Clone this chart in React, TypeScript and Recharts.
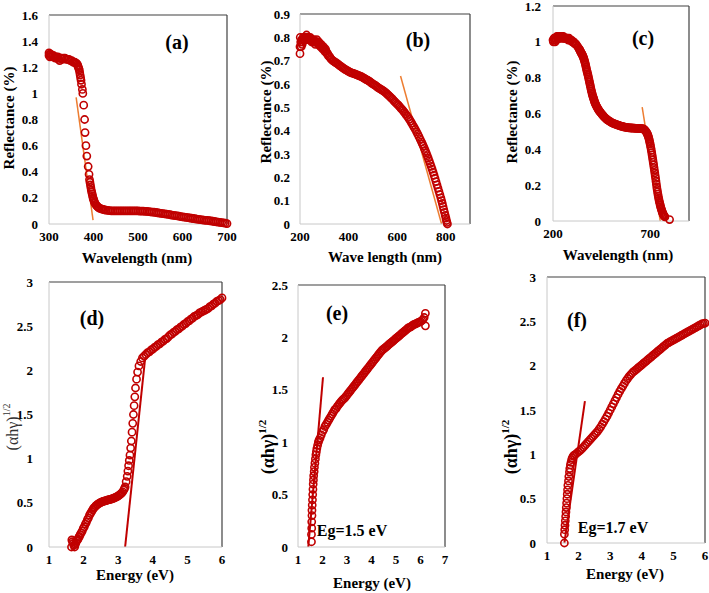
import React from "react";
import { ScatterChart, Scatter, XAxis, YAxis, ReferenceLine } from "recharts";

// (a) reflectance vs wavelength
const reflA: [number, number][] = [
  [300, 1.31], [300, 1.29], [301, 1.3], [302, 1.28], [304, 1.3], [306, 1.29], [308, 1.28], [310, 1.29],
  [312, 1.28], [314, 1.27], [316, 1.28], [318, 1.27], [320, 1.28], [322, 1.26], [324, 1.25], [326, 1.27],
  [328, 1.27], [330, 1.26], [333, 1.27], [336, 1.27], [339, 1.26], [342, 1.26], [345, 1.26], [348, 1.25],
  [351, 1.25], [354, 1.24], [356, 1.24], [358, 1.24], [360, 1.23], [362, 1.23], [364, 1.22], [365, 1.21],
  [366, 1.2], [367, 1.19], [368, 1.18], [369, 1.16], [370, 1.14], [371, 1.12], [372, 1.1], [373, 1.07],
  [375, 1.03], [376, 1.0], [378, 0.91], [380, 0.8], [381, 0.7], [383, 0.6], [385, 0.52], [388, 0.44],
  [390, 0.38], [391, 0.34], [392, 0.32], [393, 0.3], [394, 0.28], [395, 0.26], [396, 0.245], [397, 0.23],
  [398, 0.215], [399, 0.2], [400, 0.19], [401, 0.18], [402, 0.17], [403, 0.16], [405, 0.15], [407, 0.14],
  [409, 0.133], [411, 0.127], [413, 0.122], [416, 0.118], [419, 0.114], [422, 0.111], [425, 0.108], [428, 0.106],
  [432, 0.104], [436, 0.102], [440, 0.101], [444, 0.1], [448, 0.1], [452, 0.1], [456, 0.1], [460, 0.1],
  [464, 0.1], [468, 0.1], [472, 0.1], [476, 0.1], [480, 0.1], [484, 0.1], [488, 0.1], [492, 0.1],
  [496, 0.1], [500, 0.1], [504, 0.099], [508, 0.098], [512, 0.098], [516, 0.097], [520, 0.096], [524, 0.094],
  [528, 0.093], [532, 0.091], [536, 0.09], [540, 0.088], [544, 0.086], [548, 0.084], [552, 0.082], [556, 0.08],
  [560, 0.078], [564, 0.076], [568, 0.073], [572, 0.071], [576, 0.068], [580, 0.066], [584, 0.064], [588, 0.062],
  [592, 0.06], [596, 0.057], [600, 0.055], [604, 0.053], [608, 0.051], [612, 0.049], [616, 0.046], [620, 0.044],
  [624, 0.042], [628, 0.04], [632, 0.038], [636, 0.036], [640, 0.034], [644, 0.032], [648, 0.03], [652, 0.028],
  [656, 0.027], [660, 0.025], [664, 0.023], [668, 0.021], [672, 0.019], [676, 0.017], [680, 0.015], [684, 0.013],
  [688, 0.011], [692, 0.008], [696, 0.006], [700, 0.003],
];

// (b)
const reflB: [number, number][] = [
  [200, 0.73], [200, 0.76], [201, 0.8], [203, 0.78], [205, 0.76], [207, 0.79], [209, 0.77], [211, 0.78],
  [213, 0.8], [215, 0.79], [218, 0.8], [221, 0.79], [224, 0.8], [227, 0.81], [230, 0.8], [233, 0.79],
  [236, 0.8], [239, 0.79], [242, 0.8], [245, 0.79], [248, 0.78], [251, 0.79], [254, 0.78], [257, 0.79],
  [260, 0.78], [263, 0.77], [266, 0.78], [269, 0.79], [272, 0.78], [275, 0.77], [278, 0.78], [281, 0.77],
  [284, 0.76], [287, 0.77], [290, 0.76], [293, 0.75], [296, 0.76], [299, 0.75], [302, 0.74], [305, 0.75],
  [308, 0.74], [311, 0.73], [314, 0.73], [317, 0.72], [320, 0.72], [323, 0.715], [326, 0.71], [330, 0.705],
  [335, 0.7], [340, 0.697], [345, 0.693], [350, 0.69], [355, 0.686], [360, 0.682], [365, 0.678], [370, 0.674],
  [375, 0.67], [380, 0.667], [385, 0.663], [390, 0.66], [395, 0.657], [400, 0.654], [405, 0.651], [410, 0.649],
  [415, 0.647], [420, 0.645], [425, 0.643], [430, 0.641], [435, 0.639], [440, 0.637], [445, 0.635], [450, 0.633],
  [455, 0.63], [460, 0.627], [465, 0.624], [470, 0.621], [475, 0.618], [480, 0.615], [485, 0.612], [490, 0.608],
  [495, 0.604], [500, 0.6], [505, 0.597], [510, 0.594], [515, 0.59], [520, 0.586], [525, 0.582], [530, 0.579],
  [535, 0.576], [540, 0.573], [545, 0.569], [550, 0.565], [555, 0.561], [560, 0.556], [565, 0.551], [570, 0.546],
  [575, 0.541], [580, 0.536], [585, 0.53], [590, 0.524], [595, 0.519], [600, 0.514], [605, 0.509], [610, 0.503],
  [615, 0.497], [620, 0.491], [625, 0.485], [630, 0.478], [635, 0.471], [640, 0.464], [645, 0.457], [650, 0.449],
  [655, 0.441], [660, 0.432], [665, 0.423], [670, 0.414], [675, 0.405], [680, 0.395], [685, 0.385], [690, 0.374],
  [695, 0.363], [700, 0.352], [704, 0.343], [708, 0.334], [712, 0.324], [716, 0.314], [720, 0.304], [724, 0.293],
  [728, 0.282], [732, 0.271], [736, 0.259], [740, 0.247], [744, 0.235], [748, 0.222], [752, 0.209], [756, 0.196],
  [760, 0.182], [764, 0.168], [768, 0.154], [772, 0.14], [776, 0.126], [780, 0.112], [783, 0.1], [786, 0.088],
  [789, 0.075], [792, 0.062], [795, 0.05], [798, 0.037], [801, 0.025], [803, 0.015], [805, 0.007], [807, 0],
];

// (c)
const reflC: [number, number][] = [
  [200, 1.01], [202, 1.0], [205, 1.02], [208, 1.01], [211, 1.0], [214, 1.02], [217, 1.01], [220, 1.03],
  [223, 1.02], [226, 1.03], [229, 1.02], [232, 1.03], [235, 1.02], [238, 1.03], [241, 1.02], [244, 1.03],
  [247, 1.03], [250, 1.02], [253, 1.03], [256, 1.02], [259, 1.02], [263, 1.02], [267, 1.02], [271, 1.02],
  [275, 1.02], [279, 1.01], [283, 1.02], [287, 1.01], [291, 1.01], [295, 1.01], [299, 1.0], [303, 1.0],
  [307, 1.0], [311, 0.99], [315, 0.99], [320, 0.985], [326, 0.975], [332, 0.965], [336, 0.958], [338, 0.955],
  [340, 0.95], [342, 0.945], [344, 0.94], [346, 0.937], [348, 0.933], [350, 0.93], [352, 0.925], [354, 0.92],
  [356, 0.915], [358, 0.909], [360, 0.902], [362, 0.895], [364, 0.887], [366, 0.879], [368, 0.87], [370, 0.86],
  [372, 0.85], [374, 0.84], [376, 0.832], [378, 0.823], [380, 0.815], [382, 0.805], [384, 0.795], [386, 0.785],
  [388, 0.775], [390, 0.765], [392, 0.755], [394, 0.745], [396, 0.735], [398, 0.725], [400, 0.717], [402, 0.708],
  [404, 0.7], [406, 0.693], [408, 0.687], [410, 0.68], [412, 0.673], [414, 0.666], [416, 0.66], [418, 0.655],
  [420, 0.65], [423, 0.643], [426, 0.637], [429, 0.631], [432, 0.625], [435, 0.62], [438, 0.615], [441, 0.61],
  [445, 0.605], [449, 0.6], [453, 0.594], [457, 0.589], [461, 0.584], [465, 0.579], [470, 0.574], [475, 0.569],
  [480, 0.565], [485, 0.561], [490, 0.557], [495, 0.554], [500, 0.551], [505, 0.548], [510, 0.545], [515, 0.543],
  [520, 0.541], [525, 0.539], [530, 0.537], [535, 0.535], [540, 0.533], [545, 0.531], [550, 0.529], [555, 0.528],
  [560, 0.526], [565, 0.525], [570, 0.524], [575, 0.523], [580, 0.522], [585, 0.521], [590, 0.52], [595, 0.52],
  [600, 0.519], [605, 0.519], [610, 0.518], [615, 0.518], [620, 0.518], [625, 0.517], [630, 0.517], [635, 0.517],
  [640, 0.517], [645, 0.517], [650, 0.516], [655, 0.516], [660, 0.515], [664, 0.514], [668, 0.512], [672, 0.508],
  [676, 0.503], [680, 0.497], [684, 0.49], [686, 0.485], [688, 0.48], [690, 0.474], [692, 0.467], [694, 0.459],
  [696, 0.45], [698, 0.44], [700, 0.43], [702, 0.419], [704, 0.407], [706, 0.395], [708, 0.382], [710, 0.369],
  [712, 0.355], [714, 0.341], [716, 0.327], [718, 0.313], [720, 0.298], [722, 0.283], [724, 0.268], [726, 0.253],
  [728, 0.238], [730, 0.222], [732, 0.206], [734, 0.19], [736, 0.176], [738, 0.163], [740, 0.15], [742, 0.138],
  [744, 0.127], [746, 0.116], [748, 0.106], [750, 0.097], [752, 0.088], [754, 0.08], [756, 0.072], [758, 0.065],
  [760, 0.058], [762, 0.052], [764, 0.046], [766, 0.041], [768, 0.036], [770, 0.032], [773, 0.027], [776, 0.023],
  [800, 0.008],
];

// (d) (αhγ)^1/2 vs energy
const taucD: [number, number][] = [
  [1.65, 0.0], [1.66, 0.08], [1.68, 0.06], [1.7, 0.04], [1.72, 0.02], [1.74, 0.0], [1.76, 0.03], [1.78, 0.05],
  [1.8, 0.07], [1.82, 0.08], [1.84, 0.09], [1.86, 0.11], [1.88, 0.12], [1.9, 0.14], [1.93, 0.16], [1.96, 0.18],
  [1.99, 0.21], [2.02, 0.23], [2.05, 0.26], [2.08, 0.28], [2.11, 0.31], [2.14, 0.33], [2.17, 0.36], [2.2, 0.38],
  [2.23, 0.4], [2.26, 0.42], [2.29, 0.44], [2.32, 0.45], [2.35, 0.465], [2.38, 0.475], [2.41, 0.485], [2.44, 0.49],
  [2.47, 0.5], [2.5, 0.505], [2.53, 0.51], [2.56, 0.515], [2.59, 0.52], [2.62, 0.523], [2.65, 0.526], [2.68, 0.53],
  [2.71, 0.533], [2.74, 0.536], [2.77, 0.54], [2.8, 0.543], [2.83, 0.547], [2.86, 0.551], [2.89, 0.556], [2.92, 0.561],
  [2.95, 0.567], [2.98, 0.574], [3.01, 0.582], [3.04, 0.59], [3.07, 0.6], [3.1, 0.61], [3.13, 0.625], [3.16, 0.645],
  [3.18, 0.66], [3.2, 0.68], [3.23, 0.74], [3.26, 0.8], [3.28, 0.86], [3.3, 0.92], [3.32, 0.98], [3.34, 1.04],
  [3.36, 1.12], [3.38, 1.2], [3.4, 1.3], [3.42, 1.4], [3.44, 1.5], [3.46, 1.6], [3.48, 1.7], [3.5, 1.8],
  [3.53, 1.9], [3.56, 1.98], [3.6, 2.05], [3.65, 2.1], [3.7, 2.14], [3.75, 2.16], [3.8, 2.18], [3.85, 2.2],
  [3.9, 2.21], [3.95, 2.23], [4.0, 2.24], [4.05, 2.26], [4.1, 2.27], [4.15, 2.29], [4.2, 2.3], [4.25, 2.32],
  [4.3, 2.33], [4.35, 2.35], [4.4, 2.36], [4.45, 2.38], [4.5, 2.4], [4.55, 2.41], [4.6, 2.43], [4.65, 2.44],
  [4.7, 2.46], [4.75, 2.47], [4.8, 2.49], [4.85, 2.5], [4.9, 2.52], [4.95, 2.53], [5.0, 2.55], [5.05, 2.56],
  [5.1, 2.58], [5.15, 2.59], [5.2, 2.61], [5.25, 2.62], [5.3, 2.63], [5.35, 2.65], [5.4, 2.66], [5.45, 2.67],
  [5.5, 2.68], [5.55, 2.69], [5.6, 2.7], [5.65, 2.72], [5.7, 2.73], [5.75, 2.75], [5.8, 2.76], [5.85, 2.78],
  [5.9, 2.79], [5.95, 2.8], [6.0, 2.82],
];

// (e)
const taucE: [number, number][] = [
  [1.55, 0.05], [1.55, 0.12], [1.56, 0.18], [1.56, 0.24], [1.57, 0.3], [1.57, 0.35], [1.58, 0.4], [1.59, 0.45],
  [1.6, 0.5], [1.61, 0.55], [1.62, 0.6], [1.63, 0.64], [1.64, 0.68], [1.66, 0.72], [1.67, 0.76], [1.69, 0.8],
  [1.71, 0.84], [1.73, 0.88], [1.75, 0.91], [1.77, 0.94], [1.8, 0.97], [1.83, 1.0], [1.86, 1.02], [1.9, 1.04],
  [1.95, 1.07], [2.0, 1.1], [2.05, 1.12], [2.1, 1.15], [2.15, 1.17], [2.2, 1.19], [2.25, 1.21], [2.3, 1.23],
  [2.35, 1.25], [2.4, 1.27], [2.45, 1.29], [2.5, 1.31], [2.55, 1.32], [2.6, 1.34], [2.65, 1.355], [2.7, 1.37],
  [2.75, 1.385], [2.8, 1.4], [2.85, 1.41], [2.9, 1.42], [2.95, 1.435], [3.0, 1.45], [3.05, 1.465], [3.1, 1.48],
  [3.15, 1.495], [3.2, 1.51], [3.25, 1.525], [3.3, 1.54], [3.35, 1.555], [3.4, 1.57], [3.45, 1.585], [3.5, 1.6],
  [3.55, 1.615], [3.6, 1.63], [3.65, 1.645], [3.7, 1.66], [3.75, 1.675], [3.8, 1.69], [3.85, 1.705], [3.9, 1.72],
  [3.95, 1.735], [4.0, 1.75], [4.05, 1.765], [4.1, 1.78], [4.15, 1.795], [4.2, 1.81], [4.25, 1.825], [4.3, 1.84],
  [4.35, 1.855], [4.4, 1.87], [4.45, 1.88], [4.5, 1.89], [4.55, 1.9], [4.6, 1.91], [4.65, 1.92], [4.7, 1.93],
  [4.75, 1.94], [4.8, 1.95], [4.85, 1.96], [4.9, 1.97], [4.95, 1.98], [5.0, 1.99], [5.05, 2.0], [5.1, 2.01],
  [5.15, 2.02], [5.2, 2.03], [5.25, 2.04], [5.3, 2.05], [5.35, 2.06], [5.4, 2.07], [5.45, 2.08], [5.5, 2.09],
  [5.55, 2.095], [5.6, 2.1], [5.65, 2.11], [5.7, 2.12], [5.75, 2.125], [5.8, 2.13], [5.85, 2.135], [5.9, 2.14],
  [5.95, 2.145], [6.0, 2.15], [6.05, 2.16], [6.1, 2.17], [6.15, 2.19], [6.2, 2.23], [6.2, 2.11],
];

// (f)
const taucF: [number, number][] = [
  [1.55, 0.0], [1.55, 0.1], [1.56, 0.15], [1.57, 0.2], [1.58, 0.25], [1.59, 0.3], [1.6, 0.35], [1.61, 0.4],
  [1.62, 0.45], [1.63, 0.5], [1.64, 0.55], [1.65, 0.6], [1.66, 0.65], [1.68, 0.7], [1.69, 0.75], [1.71, 0.8],
  [1.72, 0.84], [1.74, 0.88], [1.76, 0.91], [1.78, 0.94], [1.8, 0.96], [1.83, 0.98], [1.86, 0.99], [1.9, 1.0],
  [1.95, 1.015], [2.0, 1.03], [2.05, 1.045], [2.1, 1.06], [2.15, 1.08], [2.2, 1.1], [2.25, 1.12], [2.3, 1.14],
  [2.35, 1.16], [2.4, 1.18], [2.45, 1.2], [2.5, 1.22], [2.55, 1.24], [2.6, 1.26], [2.65, 1.285], [2.7, 1.31],
  [2.75, 1.34], [2.8, 1.37], [2.85, 1.4], [2.9, 1.43], [2.95, 1.465], [3.0, 1.5], [3.05, 1.535], [3.1, 1.57],
  [3.15, 1.605], [3.2, 1.64], [3.25, 1.675], [3.3, 1.71], [3.35, 1.74], [3.4, 1.77], [3.45, 1.8], [3.5, 1.83],
  [3.55, 1.855], [3.6, 1.88], [3.65, 1.9], [3.7, 1.92], [3.75, 1.935], [3.8, 1.95], [3.85, 1.965], [3.9, 1.98],
  [3.95, 1.995], [4.0, 2.01], [4.05, 2.025], [4.1, 2.04], [4.15, 2.055], [4.2, 2.07], [4.25, 2.085], [4.3, 2.1],
  [4.35, 2.115], [4.4, 2.13], [4.45, 2.145], [4.5, 2.16], [4.55, 2.175], [4.6, 2.19], [4.65, 2.205], [4.7, 2.22],
  [4.75, 2.235], [4.8, 2.25], [4.85, 2.26], [4.9, 2.27], [4.95, 2.28], [5.0, 2.29], [5.05, 2.3], [5.1, 2.31],
  [5.15, 2.32], [5.2, 2.33], [5.25, 2.34], [5.3, 2.35], [5.35, 2.36], [5.4, 2.37], [5.45, 2.38], [5.5, 2.39],
  [5.55, 2.4], [5.6, 2.41], [5.65, 2.42], [5.7, 2.43], [5.75, 2.44], [5.8, 2.45], [5.85, 2.46], [5.9, 2.47],
  [5.95, 2.475], [6.0, 2.48],
];

// tangent lines (two end points each)
const fitA = [{ x: 361, y: 0.97 }, { x: 399, y: 0.03 }];
const fitB = [{ x: 614, y: 0.634 }, { x: 783, y: 0 }];
const fitC = [{ x: 659, y: 0.636 }, { x: 752, y: 0 }];
const fitD = [{ x: 3.2, y: 0 }, { x: 3.78, y: 2.14 }];
const fitE = [{ x: 1.42, y: 0 }, { x: 2.02, y: 1.62 }];
const fitF = [{ x: 1.55, y: 0 }, { x: 2.2, y: 1.6 }];

const ticksA = [300, 400, 500, 600, 700];
const ticksB = [200, 400, 600, 800];
const ticksC = [200, 700];
const yTicksA = [0, 0.2, 0.4, 0.6, 0.8, 1, 1.2, 1.4, 1.6];
const yTicksB = [0, 0.1, 0.2, 0.3, 0.4, 0.5, 0.6, 0.7, 0.8, 0.9];
const yTicksC = [0, 0.2, 0.4, 0.6, 0.8, 1, 1.2];
const eTicksD = [1, 2, 3, 4, 5, 6];
const eTicksE = [1, 2, 3, 4, 5, 6, 7];
const yTicksD = [0, 0.5, 1, 1.5, 2, 2.5, 3];
const yTicksE = [0, 0.5, 1, 1.5, 2, 2.5];

const RED = "#c00000";
const ORANGE = "#ed7d31";
const FONT = '"Liberation Serif", "Times New Roman", Tinos, "DejaVu Serif", serif';

const OpenCircle = (props: any) => (
  <circle cx={props.cx} cy={props.cy} r={3.6} fill="none" stroke={RED} strokeWidth={1.6} />
);

type PanelProps = {
  plot: [number, number, number, number];
  points: [number, number][];
  xDomain: [number, number];
  xTicks: number[];
  yDomain: [number, number];
  yTicks: number[];
  fit: { x: number; y: number }[];
  fitColor: string;
  fitWidth: number;
  yGap: number;
  rightPad?: number;
};

function Panel({ plot, points, xDomain, xTicks, yDomain, yTicks, fit, fitColor, fitWidth, yGap, rightPad = 10 }: PanelProps) {
  const [x0, y0, x1, y1] = plot;
  const data = points.map(([x, y]) => ({ x, y }));
  const tick = { fontSize: 13, fontWeight: 700, fill: "#000", style: { fontFamily: FONT } };
  return (
    <div style={{ position: "absolute", left: x0 - 60, top: y0 - 10 }}>
      <ScatterChart
        width={x1 - x0 + 60 + rightPad}
        height={y1 - y0 + 50}
        margin={{ top: 10, right: rightPad, bottom: 0, left: 0 }}
      >
        <XAxis
          type="number"
          dataKey="x"
          domain={xDomain}
          ticks={xTicks}
          height={40}
          tickLine={false}
          axisLine={{ stroke: "#c8c8c8" }}
          tick={tick}
          tickMargin={2}
          interval={0}
        />
        <YAxis
          type="number"
          dataKey="y"
          domain={yDomain}
          ticks={yTicks}
          width={60}
          tickLine={false}
          axisLine={{ stroke: "#c8c8c8" }}
          tick={tick}
          tickSize={0}
          tickMargin={yGap}
          interval={0}
        />
        <ReferenceLine y={yDomain[1]} stroke="#404040" strokeWidth={1.2} />
        <ReferenceLine x={xDomain[1]} stroke="#404040" strokeWidth={1.2} />
        <Scatter data={data} shape={OpenCircle} isAnimationActive={false} />
        <ReferenceLine segment={fit} stroke={fitColor} strokeWidth={fitWidth} />
      </ScatterChart>
    </div>
  );
}

function TaucLabel({ x, y, bold }: { x: number; y: number; bold: boolean }) {
  return (
    <text
      x={x}
      y={y}
      transform={`rotate(-90 ${x} ${y})`}
      textAnchor="middle"
      dominantBaseline="central"
      style={{ fontFamily: FONT }}
      fontSize={bold ? 18 : 16}
      fontWeight={bold ? 700 : 400}
      fill={bold ? "#000" : "#333"}
    >
      (αhγ)
      <tspan dy={-6} fontSize={bold ? 11 : 10}>1/2</tspan>
    </text>
  );
}

export default function App() {
  const title = {
    style: { fontFamily: FONT },
    fontSize: 15,
    fontWeight: 700,
    fill: "#000",
    textAnchor: "middle" as const,
    dominantBaseline: "central" as const,
  };
  const tag = { ...title, fontSize: 20 };
  return (
    <div style={{ position: "absolute", left: 0, top: 0, width: 709, height: 593, background: "#fff", overflow: "hidden", fontFamily: FONT }}>
      <Panel plot={[49, 15, 227, 224]} points={reflA} xDomain={[300, 700]} xTicks={ticksA} yDomain={[0, 1.6]} yTicks={yTicksA} fit={fitA} fitColor={ORANGE} fitWidth={1.5} yGap={11} />
      <Panel plot={[300, 14, 470, 224]} points={reflB} xDomain={[200, 900]} xTicks={ticksB} yDomain={[0, 0.9]} yTicks={yTicksB} fit={fitB} fitColor={ORANGE} fitWidth={1.5} yGap={10} />
      <Panel plot={[553, 6, 689, 221]} points={reflC} xDomain={[200, 900]} xTicks={ticksC} yDomain={[0, 1.2]} yTicks={yTicksC} fit={fitC} fitColor={ORANGE} fitWidth={1.5} yGap={12} />
      <Panel plot={[49, 282, 222, 547]} points={taucD} xDomain={[1, 6]} xTicks={eTicksD} yDomain={[0, 3]} yTicks={yTicksD} fit={fitD} fitColor={RED} fitWidth={2} yGap={16} />
      <Panel plot={[298, 285, 445, 547]} points={taucE} xDomain={[1, 7]} xTicks={eTicksE} yDomain={[0, 2.5]} yTicks={yTicksE} fit={fitE} fitColor={RED} fitWidth={2} yGap={10} />
      <Panel plot={[547, 277, 705, 543]} points={taucF} xDomain={[1, 6]} xTicks={eTicksD} yDomain={[0, 3]} yTicks={yTicksD} fit={fitF} fitColor={RED} fitWidth={2} yGap={11} rightPad={4} />
      <svg width={709} height={593} style={{ position: "absolute", left: 0, top: 0, pointerEvents: "none" }}>
        <text x={177} y={42} {...tag}>(a)</text>
        <text x={418} y={40} {...tag}>(b)</text>
        <text x={643} y={38} {...tag}>(c)</text>
        <text x={92} y={318} {...tag}>(d)</text>
        <text x={337} y={313} {...tag}>(e)</text>
        <text x={577} y={320} {...tag}>(f)</text>

        <text x={137} y={258} {...title}>Wavelength (nm)</text>
        <text x={385} y={257} {...title}>Wave length (nm)</text>
        <text x={618} y={255} {...title}>Wavelength (nm)</text>
        <text x={135} y={575} {...title}>Energy (eV)</text>
        <text x={372} y={583} {...title}>Energy (eV)</text>
        <text x={625} y={574} {...title}>Energy (eV)</text>

        <text x={9} y={118} {...title} transform="rotate(-90 9 118)">Reflectance (%)</text>
        <text x={266} y={112} {...title} transform="rotate(-90 266 112)">Reflectance (%)</text>
        <text x={512} y={112} {...title} transform="rotate(-90 512 112)">Reflectance (%)</text>
        <TaucLabel x={12} y={427} bold={false} />
        <TaucLabel x={268} y={447} bold={true} />
        <TaucLabel x={511} y={447} bold={true} />

        <text x={352} y={530} {...title} fontSize={16}>Eg=1.5 eV</text>
        <text x={613} y={527} {...title} fontSize={16}>Eg=1.7 eV</text>
      </svg>
    </div>
  );
}
